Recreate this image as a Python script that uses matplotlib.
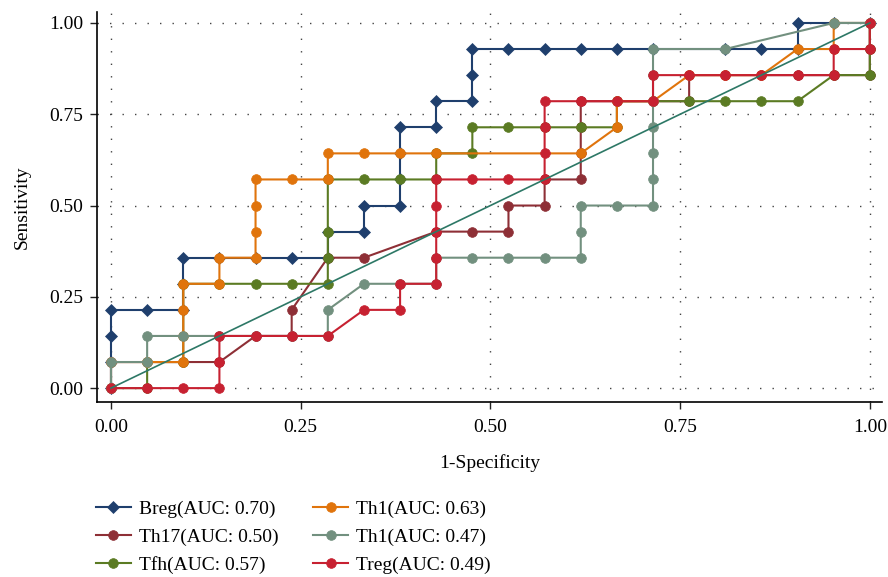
import numpy as np
import matplotlib.pyplot as plt

plt.rcParams['font.family'] = ['Liberation Serif', 'DejaVu Serif']

# 21 negatives, 14 positives: curves are given as counts (false pos, true pos)
n_neg = 21
n_pos = 14

labels = ['Breg(AUC: 0.70)', 'Th17(AUC: 0.50)', 'Tfh(AUC: 0.57)',
          'Th1(AUC: 0.63)', 'Th1(AUC: 0.47)', 'Treg(AUC: 0.49)']

breg_fp = [0, 0, 0, 0, 1, 2, 2, 2, 3, 4, 5, 6, 6, 7, 7, 8, 8, 8, 8, 9, 9, 10, 10, 10,
           11, 12, 13, 14, 15, 17, 18, 19, 19, 20, 21]
breg_tp = [0, 1, 2, 3, 3, 3, 4, 5, 5, 5, 5, 5, 6, 6, 7, 7, 8, 9, 10, 10, 11, 11, 12, 13,
           13, 13, 13, 13, 13, 13, 13, 13, 14, 14, 14]

th17_fp = [0, 0, 1, 2, 3, 4, 5, 5, 6, 7, 9, 10, 11, 11, 12, 12, 13, 13, 13, 13, 14, 15,
           16, 16, 17, 18, 19, 20, 21, 21, 21]
th17_tp = [0, 1, 1, 1, 1, 2, 2, 3, 5, 5, 6, 6, 6, 7, 7, 8, 8, 9, 10, 11, 11, 11,
           11, 12, 12, 12, 12, 12, 12, 13, 14]

tfh_fp = [0, 1, 1, 2, 2, 3, 4, 5, 6, 6, 6, 6, 7, 8, 9, 9, 10, 10, 11, 12, 13, 14, 14,
          15, 16, 17, 18, 19, 20, 21, 21, 21]
tfh_tp = [0, 0, 1, 1, 4, 4, 4, 4, 4, 5, 6, 8, 8, 8, 8, 9, 9, 10, 10, 10, 10, 10, 11,
          11, 11, 11, 11, 11, 12, 12, 13, 14]

th1a_fp = [0, 0, 1, 2, 2, 2, 2, 3, 3, 4, 4, 4, 4, 5, 6, 6, 7, 8, 9, 13, 14, 14, 15,
           16, 17, 18, 19, 20, 20, 21]
th1a_tp = [0, 1, 1, 1, 2, 3, 4, 4, 5, 5, 6, 7, 8, 8, 8, 9, 9, 9, 9, 9, 10, 11, 11,
           12, 12, 12, 13, 13, 14, 14]

th1b_fp = [0, 0, 1, 1, 2, 3, 4, 5, 6, 6, 7, 8, 9, 9, 10, 11, 12, 13, 13, 13, 14, 15,
           15, 15, 15, 15, 15, 15, 17, 20, 21]
th1b_tp = [0, 1, 1, 2, 2, 2, 2, 2, 2, 3, 4, 4, 4, 5, 5, 5, 5, 5, 6, 7, 7, 7,
           8, 9, 10, 11, 12, 13, 13, 14, 14]

treg_fp = [0, 1, 2, 3, 3, 3, 4, 5, 6, 7, 8, 8, 9, 9, 9, 9, 9, 10, 11, 12, 12, 12, 12,
           13, 14, 15, 15, 16, 17, 18, 19, 20, 20, 21, 21]
treg_tp = [0, 0, 0, 0, 1, 2, 2, 2, 2, 3, 3, 4, 4, 5, 6, 7, 8, 8, 8, 8, 9, 10, 11,
           11, 11, 11, 12, 12, 12, 12, 12, 12, 13, 13, 14]

ticks = [0.0, 0.25, 0.5, 0.75, 1.0]
tick_labels = ['0.00', '0.25', '0.50', '0.75', '1.00']

curves = [(breg_fp, breg_tp, '#1f3f6d', 'D'),
          (th17_fp, th17_tp, '#8e2f36', 'o'),
          (tfh_fp, tfh_tp, '#5b7b23', 'o'),
          (th1a_fp, th1a_tp, '#e0740c', 'o'),
          (th1b_fp, th1b_tp, '#72907f', 'o'),
          (treg_fp, treg_tp, '#c72131', 'o')]

fig = plt.figure(figsize=(8.88, 5.77), dpi=100)
ax = fig.add_axes([0.1092, 0.3033, 0.884, 0.6759])

for (fp, tp, c, m), lab in zip(curves, labels):
    x = np.array(fp) / n_neg
    y = np.array(tp) / n_pos
    ms = 5.8 if m == 'D' else 7
    ax.plot(x, y, color=c, lw=1.5, marker=m, ms=ms,
            mfc=c, mec=c, mew=0.5, label=lab)

ax.plot([0, 1], [0, 1], color='#2d7866', lw=1.2, zorder=5)

ax.set_xlim(-0.0185, 1.016)
ax.set_ylim(-0.038, 1.03)
ax.set_xticks(ticks)
ax.set_xticklabels(tick_labels)
ax.set_yticks(ticks)
ax.set_yticklabels(tick_labels)
ax.tick_params(labelsize=14, length=5, width=1, pad=5, color='#222222')
ax.tick_params(axis='x', pad=7)
ax.grid(True, color='#444444', lw=1.0, linestyle=(0, (1, 8)))
ax.set_axisbelow(True)
for s in ['top', 'right']:
    ax.spines[s].set_visible(False)
for s in ['left', 'bottom']:
    ax.spines[s].set_linewidth(1.2)

ax.set_xlabel('1-Specificity', fontsize=14, labelpad=13)
ax.set_ylabel('Sensitivity', fontsize=14, labelpad=13)

fig.legend(loc='upper left', bbox_to_anchor=(0.108, 0.133), ncol=2,
           frameon=False, fontsize=14, numpoints=1, handlelength=1.8,
           handletextpad=0.4, columnspacing=1.8, labelspacing=0.52,
           borderpad=0, borderaxespad=0)

fig.savefig('out.png', dpi=100)
